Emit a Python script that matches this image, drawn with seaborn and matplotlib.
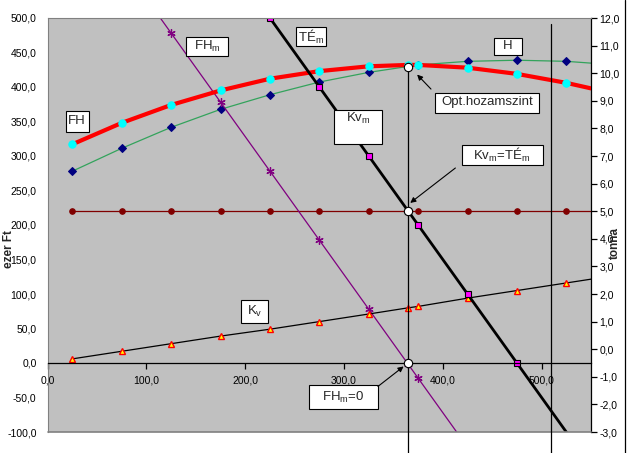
import matplotlib
matplotlib.use("Agg")
import matplotlib.pyplot as plt
import seaborn as sns
from matplotlib.ticker import FuncFormatter, MultipleLocator
from matplotlib.patches import Rectangle
from matplotlib.lines import Line2D

# adatok (x = kijuttatott mennyiseg)
fh_x = [25, 75, 125, 175, 225, 275, 325, 365, 375, 425, 475, 525, 575]
fh_y = [317, 348, 374, 395, 412, 423, 430, 432, 432, 428, 419, 406, 390]

h_x = [25, 75, 125, 175, 225, 275, 325, 375, 425, 475, 525, 575]
h_t = [6.45, 7.28, 8.04, 8.69, 9.22, 9.68, 10.03, 10.30, 10.43, 10.47, 10.43, 10.30]

kv_x = [25, 75, 125, 175, 225, 275, 325, 365, 375, 425, 475, 525, 575]
kv_y = [6, 17, 28, 39, 49, 60, 71, 80, 82, 94, 105, 116, 127]

tem_x = [25, 75, 125, 175, 225, 275, 325, 375, 425, 475, 525, 575]
tem_y = [220] * len(tem_x)

kvm_x = [225, 275, 325, 365, 375, 425, 475, 525, 575]
kvm_y = [500, 400, 300, 220, 200, 100, 0, -100, -200]

fhm_x = [25, 75, 125, 175, 225, 275, 325, 365, 375, 425, 475, 525, 575]
fhm_y = [678, 578, 478, 378, 278, 178, 78, -2, -22, -122, -222, -322, -422]

opt_x = [365, 365, 365]
opt_y = [429, 220, 0]

vonal_x = [365, 510]
vonal_top = [429, 492]

sns.set_style("white")
plt.rcParams["font.family"] = ["Liberation Sans", "DejaVu Sans"]
plt.rcParams["mathtext.fontset"] = "custom"
plt.rcParams["mathtext.rm"] = "Liberation Sans"

W, H = 628, 453
fig = plt.figure(figsize=(W / 100, H / 100), dpi=100)
ax2 = fig.add_axes([47.7 / W, 21 / H, 543.3 / W, 414 / H])
ax = ax2.twinx()
ax.yaxis.set_label_position("left")
ax.yaxis.tick_left()
ax2.yaxis.tick_right()
ax.xaxis.set_visible(True)
ax2.xaxis.set_visible(False)
ax.set_zorder(ax2.get_zorder() + 1)
ax.patch.set_visible(False)
ax2.set_facecolor("#C0C0C0")

# hozam (tonna) a jobb tengelyen
sns.lineplot(x=h_x, y=h_t, ax=ax2, color="#33A35C", lw=0.9, marker="D",
             markersize=4.2, markerfacecolor="#000080", markeredgecolor="#000080")

# ezer Ft sorozatok
sns.lineplot(x=tem_x, y=tem_y, ax=ax, color="#800000", lw=0.9, marker="o",
             markersize=4, markerfacecolor="#800000", markeredgecolor="#800000")
sns.lineplot(x=fhm_x, y=fhm_y, ax=ax, color="#800080", lw=0.9, marker=(6, 2, 0),
             markersize=6, markeredgecolor="#800080", markeredgewidth=0.9)
sns.lineplot(x=kv_x, y=kv_y, ax=ax, color="black", lw=0.9, marker="^",
             markersize=5, markerfacecolor="#FFFF00", markeredgecolor="#FF0000",
             markeredgewidth=1.0)
sns.lineplot(x=fh_x, y=fh_y, ax=ax, color="#FF0000", lw=3, marker="o",
             markersize=5.3, markerfacecolor="#00FFFF", markeredgecolor="#00FFFF")
sns.lineplot(x=kvm_x, y=kvm_y, ax=ax, color="black", lw=2, marker="s",
             markersize=4.6, markerfacecolor="#FF00FF", markeredgecolor="black",
             markeredgewidth=0.8, markevery=list(range(7)))

# fuggoleges vonalak
for vx, vt in zip(vonal_x, vonal_top):
    ax.plot([vx, vx], [vt, -130], color="black", lw=0.9, clip_on=False, zorder=3)

ax.plot(opt_x, opt_y, ls="none", marker="o", markersize=6, markerfacecolor="white",
        markeredgecolor="black", markeredgewidth=0.8, zorder=6)

ax.set_xlim(0, 550)
ax.set_ylim(-100, 500)
ax2.set_ylim(-3, 12)

fmt = FuncFormatter(lambda v, p: f"{v:.1f}".replace(".", ","))
ax.yaxis.set_major_locator(MultipleLocator(50))
ax.yaxis.set_major_formatter(fmt)
ax.xaxis.set_major_locator(MultipleLocator(100))
ax.xaxis.set_major_formatter(fmt)
ax2.yaxis.set_major_locator(MultipleLocator(1))
ax2.yaxis.set_major_formatter(fmt)

ax.tick_params(axis="y", length=0, pad=8, labelsize=7.5, labelcolor="black")
ax.tick_params(axis="x", bottom=True, labelbottom=True, direction="out", length=4,
               width=0.9, pad=5, labelsize=7.5, color="black", labelcolor="black")
ax2.tick_params(axis="y", direction="out", length=4, width=0.9, pad=2, labelsize=7.5,
                color="black", labelcolor="black")

for s in ["left", "top", "bottom", "right"]:
    ax2.spines[s].set_visible(False)
ax2.spines["right"].set_visible(True)
ax2.spines["right"].set_color("black")
ax2.spines["right"].set_linewidth(0.9)
ax.spines["right"].set_visible(False)
ax.spines["left"].set_color("#808080")
ax.spines["top"].set_color("#808080")
ax.spines["bottom"].set_position(("data", 0))
ax.spines["bottom"].set_color("black")
ax.spines["bottom"].set_linewidth(0.9)
ax.axhline(-100, color="#808080", lw=1.2, clip_on=False)
ax.set_xlabel("")
ax.set_ylabel("")


def doboz(x0, x1, y0, y1, szoveg, ty=None):
    ax.add_patch(Rectangle((x0, y0), x1 - x0, y1 - y0, facecolor="white",
                           edgecolor="black", lw=0.8, zorder=7))
    ax.text((x0 + x1) / 2, ty if ty is not None else (y0 + y1) / 2, szoveg,
            ha="center", va="center", fontsize=9.5, zorder=8)


doboz(18.2, 41.5, 334.5, 365.7, "FH")
doboz(140.1, 182.4, 445.4, 472.5, r"FH$_\mathrm{m}$")
doboz(250.9, 282, 458.8, 486.4, r"TÉ$_\mathrm{m}$")
doboz(451.5, 480.5, 446.8, 471, "H")
doboz(392.4, 497.5, 362.3, 391.3, "Opt.hozamszint", ty=378.5)
doboz(290.1, 338.4, 317.4, 367.1, r"Kv$_\mathrm{m}$", ty=354)
doboz(419, 501.1, 286.4, 316.4, r"Kv$_\mathrm{m}$=TÉ$_\mathrm{m}$")
doboz(195.8, 222.9, 58, 91.7, r"K$_\mathrm{v}$")
doboz(265, 334.3, -66.7, -32.5, r"FH$_\mathrm{m}$=0")

nyil = dict(arrowstyle="-|>", color="black", lw=0.8, mutation_scale=8, shrinkA=0, shrinkB=0)
ax.annotate("", xy=(374, 418), xytext=(388, 397), arrowprops=nyil, zorder=8)
ax.annotate("", xy=(367, 232), xytext=(412.7, 282.6), arrowprops=nyil, zorder=8)
ax.annotate("", xy=(360.3, -5), xytext=(334.3, -34), arrowprops=nyil, zorder=8)

fig.text(9 / W, 1 - 249 / H, "ezer Ft", rotation=90, ha="center", va="center",
         fontsize=8.5, fontweight="bold")
fig.text(615 / W, 1 - 243 / H, "tonna", rotation=90, ha="center", va="center",
         fontsize=8.5, fontweight="bold")
fig.add_artist(Line2D([625 / W, 625 / W], [0, 1], color="black", lw=0.9))

fig.savefig("out.png", dpi=100)
